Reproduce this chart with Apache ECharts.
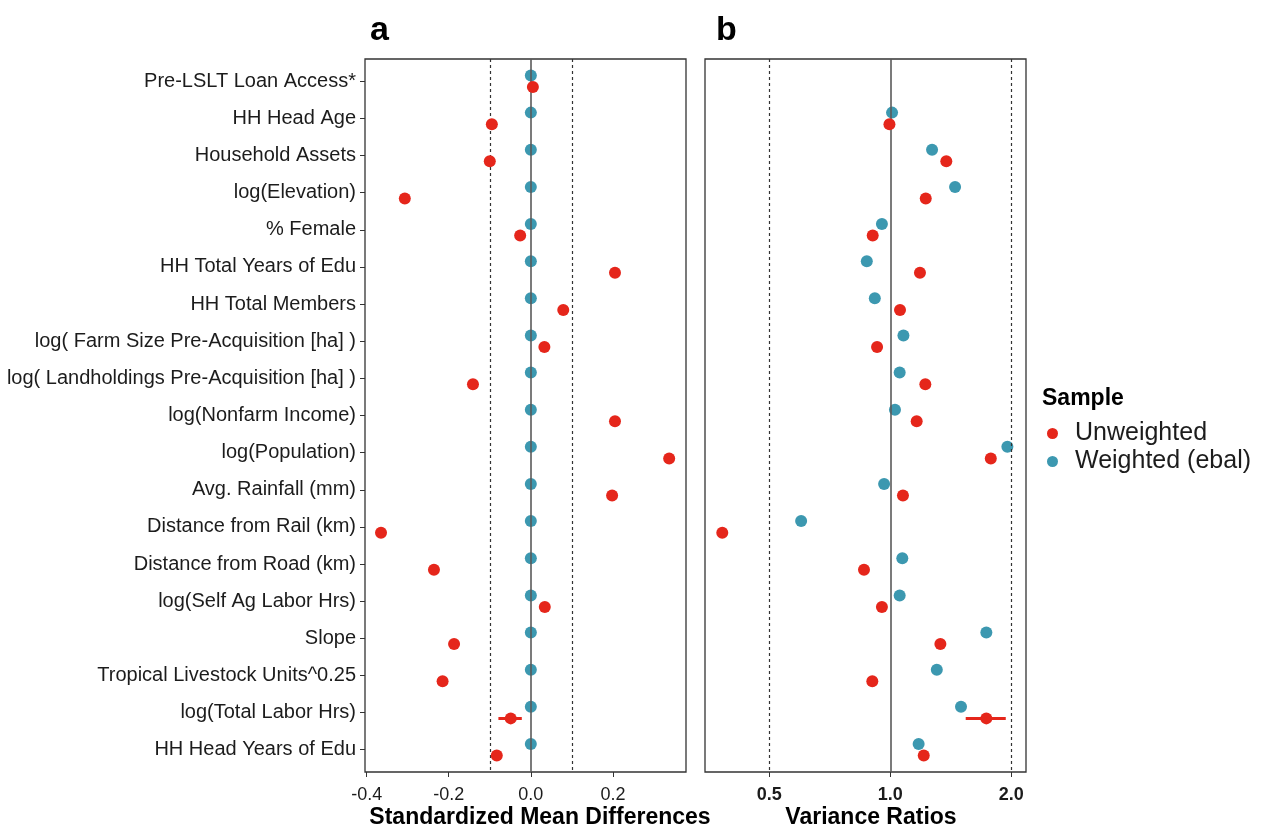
<!DOCTYPE html>
<html>
<head>
<meta charset="utf-8">
<title>Covariate balance</title>
<script src="https://cdn.jsdelivr.net/npm/echarts@6/dist/echarts.min.js"></script>
<style>
  html, body { margin: 0; padding: 0; background: #fff; }
  #chart { width: 1263px; height: 832px; }
</style>
</head>
<body>
<div id="chart"></div>
<script>
// Covariates, top to bottom
const rowLabels = [
  'Pre-LSLT Loan Access*',
  'HH Head Age',
  'Household Assets',
  'log(Elevation)',
  '% Female',
  'HH Total Years of Edu',
  'HH Total Members',
  'log( Farm Size Pre-Acquisition [ha] )',
  'log( Landholdings Pre-Acquisition [ha] )',
  'log(Nonfarm Income)',
  'log(Population)',
  'Avg. Rainfall (mm)',
  'Distance from Rail (km)',
  'Distance from Road (km)',
  'log(Self Ag Labor Hrs)',
  'Slope',
  'Tropical Livestock Units^0.25',
  'log(Total Labor Hrs)',
  'HH Head Years of Edu'
];

// Panel a: standardized mean differences
const smdUnweighted = [0.005, -0.095, -0.100, -0.307, -0.026, 0.205, 0.079, 0.033, -0.141, 0.205,
                       0.337, 0.198, -0.365, -0.236, 0.034, -0.187, -0.215, -0.049, -0.083];
const smdWeighted   = [0, 0, 0, 0, 0, 0, 0, 0, 0, 0, 0, 0, 0, 0, 0, 0, 0, 0, 0];
const smdThresholds = [-0.1, 0.1];
const smdTicks = [-0.4, -0.2, 0.0, 0.2];

// Panel b: variance ratios (no ratio for the binary loan-access item)
const vrUnweighted = [null, 0.995, 1.378, 1.225, 0.904, 1.185, 1.057, 0.927, 1.222, 1.163,
                      1.778, 1.075, 0.382, 0.860, 0.953, 1.332, 0.902, 1.733, 1.211];
const vrWeighted   = [null, 1.010, 1.270, 1.449, 0.953, 0.874, 0.915, 1.078, 1.055, 1.027,
                      1.955, 0.965, 0.600, 1.071, 1.055, 1.733, 1.305, 1.499, 1.176];
const vrThresholds = [0.5, 2.0];
const vrTicks = [0.5, 1.0, 2.0];

// Interval shown for the unweighted log(Total Labor Hrs) estimate
const smdInterval = { row: 17, lo: -0.079, hi: -0.022 };
const vrInterval  = { row: 17, lo: 1.54, hi: 1.937 };

const RED = '#E5261B';
const TEAL = '#3C98B0';
const INK = '#1c1c1c';
const FONT = '"Liberation Sans", Arial, Helvetica, sans-serif';
const DODGE = 0.156;   // vertical dodge of the two samples, in row units

const rowIdx = rowLabels.map((_, i) => i);

function points(values, shift) {
  const out = [];
  values.forEach((v, i) => { if (v !== null) out.push([v, i + shift]); });
  return out;
}

function yAxisFor(gridIndex, showLabels) {
  return {
    type: 'value', gridIndex, inverse: true, min: -0.6, max: 18.6,
    axisLine: { show: false, onZero: false },
    splitLine: { show: false },
    axisTick: { show: showLabels, customValues: rowIdx, length: 5, lineStyle: { color: '#333', width: 1 } },
    axisLabel: {
      show: showLabels, customValues: rowIdx, margin: 9,
      color: INK, fontSize: 20, fontFamily: FONT,
      formatter: v => rowLabels[Math.round(v)]
    }
  };
}

function refLines(xAxisIndex, yAxisIndex, values, solidAt) {
  return {
    type: 'line', xAxisIndex, yAxisIndex, data: [], silent: true, z: 1,
    markLine: {
      silent: true, symbol: ['none', 'none'], animation: false,
      label: { show: false },
      data: [
        ...values.map(v => ({ xAxis: v, lineStyle: { type: [3, 3], color: '#333', width: 1.2 } })),
        { xAxis: solidAt, lineStyle: { type: 'solid', color: '#5a5a5a', width: 1.6 } }
      ]
    }
  };
}

function intervalSeries(xAxisIndex, yAxisIndex, iv) {
  return {
    type: 'line', name: 'Unweighted', xAxisIndex, yAxisIndex, z: 3,
    showSymbol: false, symbol: 'none', silent: true,
    lineStyle: { color: RED, width: 3 },
    data: [[iv.lo, iv.row + DODGE], [iv.hi, iv.row + DODGE]]
  };
}

function pointSeries(name, color, xAxisIndex, yAxisIndex, values, shift, z) {
  return {
    type: 'scatter', name, xAxisIndex, yAxisIndex, z,
    symbol: 'circle', symbolSize: 12,
    itemStyle: { color, opacity: 1 },
    data: points(values, shift)
  };
}

const chart = echarts.init(document.getElementById('chart'), null, { renderer: 'canvas' });

chart.setOption({
  animation: false,
  backgroundColor: '#ffffff',
  textStyle: { fontFamily: FONT },
  grid: [
    { left: 365, top: 59, width: 321, height: 713, show: true, borderColor: '#333', borderWidth: 1.3, backgroundColor: '#fff' },
    { left: 705, top: 59, width: 321, height: 713, show: true, borderColor: '#333', borderWidth: 1.3, backgroundColor: '#fff' }
  ],
  xAxis: [
    {
      type: 'value', gridIndex: 0, min: -0.404, max: 0.378, position: 'bottom',
      axisLine: { show: false, onZero: false }, splitLine: { show: false },
      axisTick: { show: true, customValues: smdTicks, length: 5, lineStyle: { color: '#333' } },
      axisLabel: {
        customValues: smdTicks, margin: 14, color: INK, fontSize: 18, fontFamily: FONT,
        formatter: v => v.toFixed(1)
      }
    },
    {
      type: 'log', logBase: 2, gridIndex: 1, min: 0.346, max: 2.175, position: 'bottom',
      axisLine: { show: false, onZero: false }, splitLine: { show: false }, minorTick: { show: false },
      axisTick: { show: true, customValues: vrTicks, length: 5, lineStyle: { color: '#333' } },
      axisLabel: {
        customValues: vrTicks, margin: 14, color: INK, fontSize: 18, fontWeight: 'bold', fontFamily: FONT,
        formatter: v => Number(v).toFixed(1)
      }
    }
  ],
  yAxis: [yAxisFor(0, true), yAxisFor(1, false)],
  legend: {
    orient: 'vertical', left: 1047, top: 421, padding: 0,
    itemWidth: 35, itemHeight: 11, itemGap: 3,
    icon: 'circle',
    textStyle: { color: INK, fontSize: 25, lineHeight: 24, fontFamily: FONT },
    data: [
      { name: 'Unweighted', itemStyle: { color: RED } },
      { name: 'Weighted (ebal)', itemStyle: { color: TEAL } }
    ]
  },
  graphic: [
    { type: 'text', left: 370, top: 14, style: { text: 'a', font: 'bold 34px ' + FONT, fill: '#000' } },
    { type: 'text', left: 716, top: 14, style: { text: 'b', font: 'bold 34px ' + FONT, fill: '#000' } },
    { type: 'text', x: 540, y: 818, style: { text: 'Standardized Mean Differences', font: 'bold 23px ' + FONT, fill: '#000', textAlign: 'center', textVerticalAlign: 'middle' } },
    { type: 'text', x: 871, y: 818, style: { text: 'Variance Ratios', font: 'bold 23px ' + FONT, fill: '#000', textAlign: 'center', textVerticalAlign: 'middle' } },
    { type: 'text', x: 1042, y: 399, style: { text: 'Sample', font: 'bold 23px ' + FONT, fill: '#000', textAlign: 'left', textVerticalAlign: 'middle' } }
  ],
  series: [
    refLines(0, 0, smdThresholds, 0),
    refLines(1, 1, vrThresholds, 1),
    pointSeries('Weighted (ebal)', TEAL, 0, 0, smdWeighted, -DODGE, 4),
    intervalSeries(0, 0, smdInterval),
    pointSeries('Unweighted', RED, 0, 0, smdUnweighted, DODGE, 5),
    pointSeries('Weighted (ebal)', TEAL, 1, 1, vrWeighted, -DODGE, 4),
    intervalSeries(1, 1, vrInterval),
    pointSeries('Unweighted', RED, 1, 1, vrUnweighted, DODGE, 5)
  ]
});
</script>
</body>
</html>
